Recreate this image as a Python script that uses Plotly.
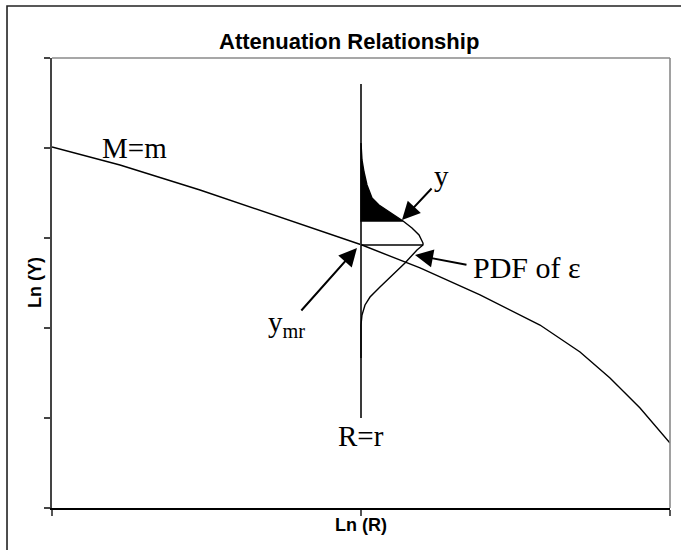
import plotly.graph_objects as go

# ---- data ----
curve_x = [0.0, 1.100, 2.395, 4.013, 5.016, 5.955, 6.926, 7.896, 8.544, 9.029, 9.515, 10.0]
curve_y = [4.011, 3.811, 3.533, 3.156, 2.922, 2.667, 2.367, 2.033, 1.733, 1.444, 1.111, 0.722]

r_value = 5.0                      # R = r
r_line_y = [4.711, 1.0]
y_mr = 2.922                       # mean of the PDF

# PDF of epsilon: vertical position and horizontal density offset
pdf_upper_y = [4.056, 3.867, 3.733, 3.589, 3.444, 3.367, 3.278, 3.189]
pdf_upper_d = [0.0, 0.016, 0.049, 0.097, 0.178, 0.291, 0.485, 0.680]
pdf_mid_y = [3.189, 3.111, 3.033, 2.944, 2.922]
pdf_mid_d = [0.680, 0.825, 0.939, 1.003, 1.003]
pdf_lower_y = [2.922, 2.867, 2.722, 2.567, 2.456, 2.344, 2.256, 2.144, 2.033, 1.667]
pdf_lower_d = [1.003, 0.906, 0.712, 0.469, 0.307, 0.146, 0.065, 0.016, 0.0, 0.0]

x_ticks = [0, 5, 10]
y_ticks = [0, 1, 2, 3, 4, 5]

# label / arrow anchor positions (data units)
lbl_M = (0.78, 4.0)
lbl_y = (6.30, 3.69)
lbl_R = (5.0, 0.80)
lbl_pdf = (6.78, 2.67)
lbl_ymr = (3.80, 2.04)
arrow_y = dict(x=5.663, y=3.20, ax=6.165, ay=3.567)
arrow_pdf = dict(x=5.874, y=2.811, ax=6.731, ay=2.70)
arrow_ymr = dict(x=4.935, y=2.889, ax=4.013, ay=2.178)

serif = "Liberation Serif"
sans = "Liberation Sans"

fig = go.Figure()

# attenuation curve M=m
fig.add_trace(go.Scatter(x=curve_x, y=curve_y, mode="lines",
                         line=dict(color="black", width=1.4), hoverinfo="skip"))
# vertical line R=r
fig.add_trace(go.Scatter(x=[r_value, r_value], y=r_line_y, mode="lines",
                         line=dict(color="#3a3a3a", width=2), hoverinfo="skip"))
# filled upper tail (P(Y>y))
fill_x = [r_value + d for d in pdf_upper_d] + [r_value, r_value]
fill_y = pdf_upper_y + [pdf_upper_y[-1], pdf_upper_y[0]]
fig.add_trace(go.Scatter(x=fill_x, y=fill_y, mode="lines", fill="toself",
                         fillcolor="black", line=dict(color="black", width=1.4),
                         hoverinfo="skip"))
# rest of PDF curve
pdf_x = [r_value + d for d in pdf_mid_d + pdf_lower_d]
pdf_y = pdf_mid_y + pdf_lower_y
fig.add_trace(go.Scatter(x=pdf_x, y=pdf_y, mode="lines",
                         line=dict(color="black", width=1.4), hoverinfo="skip"))
# mean line
fig.add_trace(go.Scatter(x=[r_value, r_value + pdf_mid_d[-1]], y=[y_mr, y_mr], mode="lines",
                         line=dict(color="black", width=1.4), hoverinfo="skip"))

annotations = []
def txt(s, pos, size=29, xanchor="center"):
    annotations.append(dict(text=s, x=pos[0], y=pos[1], xref="x", yref="y",
                            showarrow=False, xanchor=xanchor, yanchor="middle",
                            font=dict(family=serif, size=size, color="black")))

txt("M=m", lbl_M, xanchor="left")
txt("y", lbl_y)
txt("R=r", lbl_R)
txt("PDF of ε", lbl_pdf, size=30, xanchor="left")
txt("y<sub>mr</sub>", lbl_ymr)

for a in (arrow_y, arrow_pdf, arrow_ymr):
    annotations.append(dict(text="", x=a["x"], y=a["y"], ax=a["ax"], ay=a["ay"],
                            xref="x", yref="y", axref="x", ayref="y",
                            showarrow=True, arrowhead=2, arrowsize=1.8,
                            arrowwidth=2.0, arrowcolor="black", standoff=0))

# titles
annotations.append(dict(text="<b>Attenuation Relationship</b>", x=(349 - 52) / 618, y=1.036,
                        xref="paper", yref="paper", showarrow=False,
                        xanchor="center", yanchor="middle",
                        font=dict(family=sans, size=22, color="black")))
annotations.append(dict(text="<b>Ln (R)</b>", x=0.5, y=-0.038,
                        xref="paper", yref="paper", showarrow=False,
                        xanchor="center", yanchor="middle",
                        font=dict(family=sans, size=18, color="black")))
annotations.append(dict(text="<b>Ln (Y)</b>", x=-0.0275, y=0.5, textangle=-90,
                        xref="paper", yref="paper", showarrow=False,
                        xanchor="center", yanchor="middle",
                        font=dict(family=sans, size=18, color="black")))

shapes = [
    # outer chart frame (extends past right/bottom edges)
    dict(type="rect", xref="paper", yref="paper", x0=-0.0728, x1=1.06, y0=-0.13, y1=1.1156,
         line=dict(color="#222222", width=1.6), layer="above"),
    # top and right plot borders
    dict(type="line", xref="paper", yref="paper", x0=0, x1=1, y0=1, y1=1,
         line=dict(color="#8a8a8a", width=1.6)),
    dict(type="line", xref="paper", yref="paper", x0=1, x1=1, y0=0, y1=1,
         line=dict(color="#8a8a8a", width=1.6)),
]

fig.update_layout(
    width=681, height=550,
    margin=dict(l=52, r=11, t=58, b=42),
    paper_bgcolor="white", plot_bgcolor="white",
    showlegend=False,
    annotations=annotations,
    shapes=shapes,
    xaxis=dict(range=[0, 10], tickvals=x_ticks, showticklabels=False,
               ticks="outside", ticklen=6, tickcolor="#555555", tickwidth=1.4,
               showline=True, linecolor="black", linewidth=1.6,
               showgrid=False, zeroline=False, fixedrange=True),
    yaxis=dict(range=[0, 5], tickvals=y_ticks, showticklabels=False,
               ticks="outside", ticklen=6, tickcolor="#444444", tickwidth=1.4,
               showline=True, linecolor="#444444", linewidth=1.6,
               showgrid=False, zeroline=False, fixedrange=True),
)

fig.write_html("out.html",
               config={"displayModeBar": False, "staticPlot": True},
               post_script="document.body.style.margin='0';document.body.style.padding='0';")
